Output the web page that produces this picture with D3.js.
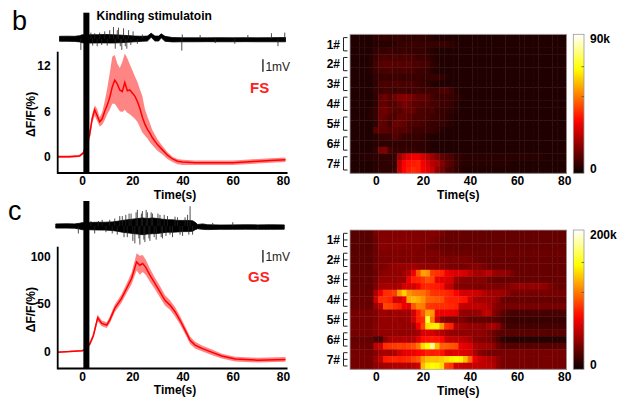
<!DOCTYPE html>
<html><head><meta charset="utf-8">
<script src="https://cdn.jsdelivr.net/npm/d3@7"></script>
<style>body{margin:0;background:#fff}svg{display:block}text{font-family:Arial,"Liberation Sans",sans-serif}</style>
</head><body><svg id="c" width="621" height="400"></svg>
<script>
// ---------- data ----------
const timeTicks = [0, 20, 40, 60, 80];
const animals = ["1#", "2#", "3#", "4#", "5#", "6#", "7#"];
const stim = [0.5, 2.9]; // kindling stimulation (s)

// FS mean trace dF/F (%)
const FS_T    = [-10,-5,-1,0.5,3,4,5,6,7,8,9,10,11,12,13,14,15,16,17,18,19,20,21,22,23,24,25,26,27,28,30,32,34,36,38,40,45,50,55,60,65,70,75,81];
const FS_MEAN = [0,0,0.1,0.5,2.9,5.0,6.2,5.4,4.6,5.0,6.0,6.8,7.8,9.2,10.1,9.6,8.8,8.6,9.8,8.7,8.8,8.4,8.0,7.3,6.4,5.2,4.3,3.6,3.1,2.5,1.6,0.9,0.2,-0.3,-0.6,-0.7,-0.8,-0.8,-0.8,-0.8,-0.7,-0.6,-0.5,-0.4];
const FS_HI   = [0.15,0.15,0.25,0.7,3.7,5.6,6.8,6.3,5.2,5.9,7.3,9.0,11.0,13.2,13.4,12.3,11.7,12.5,13.6,13.0,12.2,11.4,10.6,9.9,8.9,8.0,6.3,5.3,4.4,3.5,2.3,1.4,0.6,0.0,-0.3,-0.4,-0.5,-0.5,-0.5,-0.5,-0.4,-0.3,-0.2,-0.1];
const FS_LO   = [-0.15,-0.15,-0.05,0.3,2.2,4.4,5.4,4.7,4.0,4.2,4.8,5.6,6.2,7.0,7.0,6.5,6.0,5.9,6.2,5.8,5.6,5.3,5.0,4.6,3.9,3.2,2.8,2.4,1.9,1.5,0.8,0.3,-0.3,-0.7,-1.0,-1.1,-1.1,-1.1,-1.1,-1.1,-1.0,-0.9,-0.8,-0.7];

// GS mean trace dF/F (%)
const GS_T    = [-10,-5,0,0.6,3,4.5,6.2,7.8,9.8,11,13,15.7,17.7,19.7,21.7,23,24.1,25.3,27,29,31,33,35,37,39,41,43,45,47.7,51,55.6,61,70,81];
const GS_MEAN = [-0.7,0,1,1.5,7.6,17,35.6,29.7,27.9,33.2,45.5,56,66.5,77,94.5,91,92.8,89,80.5,71.8,63,54,49,42,33,22.6,12,6.8,3.4,0,-4.7,-7.9,-9,-8.2];
const GS_SEM  = [0.8,0.8,0.8,1,2,3,3.5,3,3,3.5,4,4.5,5,6,9,10,9,8,7,6,6,5.5,5,5,4.5,4,4,3.5,3,3,2.5,2.5,2.5,2.5];

// EEG envelopes (mV) and spikes [t, mV]
const EEG1_T  = [-9,-6,-3,-1,0,3,6,9,12,15,18,21,24,26,27.5,29,30.5,31.5,33,36,40,45,50,55,60,65,70,75,81];
const EEG1_HI = [0.2,0.21,0.2,0.25,0.32,0.33,0.33,0.35,0.33,0.3,0.26,0.22,0.2,0.22,0.45,0.22,0.22,0.4,0.2,0.1,0.08,0.08,0.08,0.09,0.08,0.09,0.08,0.09,0.1];
const EEG1_LO = [-0.2,-0.2,-0.21,-0.25,-0.32,-0.34,-0.33,-0.33,-0.34,-0.32,-0.28,-0.24,-0.2,-0.18,0.12,-0.18,-0.18,0.08,-0.2,-0.25,-0.24,-0.24,-0.23,-0.24,-0.24,-0.23,-0.24,-0.24,-0.24];
const EEG1_SP = [[-0.5,-0.9],[3.5,0.5],[4.2,-0.55],[5,0.45],[6,-0.6],[7,0.5],[7.8,-0.5],[9,0.6],[10,-0.55],[11,0.7],[12.5,0.95],[13.2,-0.8],[14,0.7],[14.5,0.9],[15.2,-0.6],[15.8,-0.9],[16.5,0.85],[17.2,-0.6],[17.8,-0.8],[18.5,0.7],[19.4,-0.5],[20.3,0.6],[22,-0.4],[24,0.35],[39.7,-0.95],[39.9,0.35],[47,0.3],[53,-0.35],[60.8,-0.4],[66,0.3],[75.4,0.45],[78,-0.6],[80.7,0.5]];
const EEG2_T  = [-10.5,-6,-3,-1,0,3,6,9,12,14,16,18,20,22,24,26,28,30,32,34,36,38,40,42,44,45,46,48,50,55,60,65,70,75,80.5];
const EEG2_HI = [0.17,0.18,0.17,0.22,0.27,0.28,0.3,0.3,0.33,0.38,0.45,0.5,0.55,0.6,0.65,0.6,0.65,0.6,0.55,0.5,0.5,0.45,0.45,0.45,0.42,0.3,0.12,0.17,0.1,0.08,0.09,0.1,0.09,0.1,0.09];
const EEG2_LO = [-0.17,-0.17,-0.18,-0.25,-0.3,-0.3,-0.32,-0.33,-0.36,-0.42,-0.5,-0.55,-0.6,-0.65,-0.7,-0.65,-0.62,-0.6,-0.55,-0.5,-0.5,-0.48,-0.45,-0.45,-0.42,-0.3,-0.22,-0.27,-0.29,-0.27,-0.27,-0.26,-0.27,-0.27,-0.26];
const EEG2_SP = [[-1.5,-0.6],[3.5,0.4],[5,-0.6],[6.5,0.4],[8,0.5],[9.5,-0.5],[11,0.5],[12,-0.6],[13,0.6],[14,-0.7],[15,0.8],[16,0.8],[16.7,-0.9],[17.4,0.9],[18,-0.9],[18.7,1.0],[19.5,1.0],[20.2,-1.2],[21,-1.4],[21.5,1.1],[22,1.3],[22.6,-1.0],[23,-1.5],[23.6,1.0],[24,1.2],[24.6,-1.1],[25,-1.3],[25.5,1.3],[26,1.1],[26.6,-1.0],[27,-1.2],[27.5,1.1],[28,1.0],[28.7,-0.9],[29.5,-1.1],[30.2,1.0],[31,0.9],[31.5,-0.9],[32,-1.0],[32.7,0.9],[33.4,-0.8],[34,0.8],[35,-0.7],[36,-0.9],[37,0.75],[38,0.7],[39,-0.7],[40,-0.8],[41,0.7],[42,0.9],[42.5,-0.7],[43,1.6],[44,-0.7],[52,0.25],[60,0.3],[70,-0.3]];

// Heatmaps: 21 rows (7 animals x 3 trials), 2-s bins from -11 s, values in k
const heatStart = -11, heatBin = 2;
const FS_HEAT = [
[3,3,3,3,3,5,5,6,5,6,6,5,6,5,6,5,5,4,3,3,3,3,3,3,3,3,3,3,3,3,3,3,3,3,3,3,3,3,3,3,3,3,3,3,3,3],
[3,3,3,3,3,4,4,4,4,5,6,6,6,7,6,6,6,6,6,6,6,5,4,3,3,3,3,3,3,3,3,3,3,3,3,3,3,3,3,3,3,3,3,3,3,3],
[3,3,3,3,3,6,6,6,7,6,6,7,6,6,6,6,5,4,3,3,3,3,3,3,3,3,3,3,3,3,3,3,3,3,3,3,3,3,3,3,3,3,3,3,3,3],
[3,3,3,3,4,7,8,9,8,9,8,9,8,8,7,7,6,4,3,3,3,3,3,3,3,3,3,3,3,3,3,3,3,3,3,3,3,3,3,3,3,3,3,3,3,3],
[3,3,3,3,4,8,10,11,11,10,11,10,11,9,9,8,8,5,4,3,3,3,3,3,3,3,3,3,3,3,3,3,3,3,3,3,3,3,3,3,3,3,3,3,3,3],
[3,3,3,3,4,7,8,8,9,8,8,9,8,8,7,7,6,4,3,3,3,3,3,3,3,3,3,3,3,3,3,3,3,3,3,3,3,3,3,3,3,3,3,3,3,3],
[3,3,3,3,3,6,6,7,6,7,7,6,7,6,7,6,6,6,6,5,4,3,3,3,3,3,3,3,3,3,3,3,3,3,3,3,3,3,3,3,3,3,3,3,3,3],
[3,3,3,3,3,5,8,9,8,9,9,8,9,8,7,6,5,4,3,3,3,3,3,3,3,3,3,3,3,3,3,3,3,3,3,3,3,3,3,3,3,3,3,3,3,3],
[3,3,3,3,3,6,7,8,8,7,8,8,7,8,8,7,8,7,7,9,9,7,4,3,3,3,3,3,3,3,3,3,3,3,3,3,3,3,3,3,3,3,3,3,3,3],
[3,3,3,3,3,5,12,14,10,14,16,17,16,14,12,12,11,8,7,7,7,6,5,4,3,3,3,3,3,3,3,3,3,3,3,3,3,3,3,3,3,3,3,3,3,3],
[3,3,3,3,3,5,12,12,10,10,13,15,14,11,11,10,10,8,8,7,7,6,4,3,3,3,3,3,3,3,3,3,3,3,3,3,3,3,3,3,3,3,3,3,3,3],
[3,3,3,3,4,6,13,14,12,10,10,13,13,12,9,9,8,9,6,6,6,5,4,3,3,3,3,3,3,3,3,3,3,3,3,3,3,3,3,3,3,3,3,3,3,3],
[3,3,3,3,4,6,13,12,9,9,12,12,11,9,9,9,8,7,7,6,5,4,3,3,3,3,3,3,3,3,3,3,3,3,3,3,3,3,3,3,3,3,3,3,3,3],
[3,3,3,3,3,5,12,11,8,13,13,12,9,9,9,8,7,6,6,6,5,4,3,3,3,3,3,3,3,3,3,3,3,3,3,3,3,3,3,3,3,3,3,3,3,3],
[3,3,3,3,3,11,11,11,10,11,10,10,9,7,7,7,7,6,5,4,3,3,3,3,3,3,3,3,3,3,3,3,3,3,3,3,3,3,3,3,3,3,3,3,3,3],
[3,3,3,3,3,4,6,6,7,10,8,6,6,6,6,5,4,3,3,3,3,3,3,3,3,3,3,3,3,3,3,3,3,3,3,3,3,3,3,3,3,3,3,3,3,3],
[3,3,3,3,3,4,5,5,5,5,5,5,5,5,5,5,4,3,3,3,3,3,3,3,3,3,3,3,3,3,3,3,3,3,3,3,3,3,3,3,3,3,3,3,3,3],
[3,3,3,3,3,5,15,16,8,6,6,6,6,6,5,5,4,3,3,3,3,3,3,3,3,3,3,3,3,3,3,3,3,3,3,3,3,3,3,3,3,3,3,3,3,3],
[3,3,3,4,4,5,5,5,5,6,20,26,30,32,32,28,24,20,16,12,10,9,6,5,4,4,4,4,4,4,4,4,4,4,4,4,4,4,4,4,4,3,3,3,3,3],
[3,3,3,3,3,4,5,5,5,6,25,33,36,37,38,32,28,24,22,16,12,10,7,5,4,4,4,4,4,4,4,4,4,4,3,3,3,3,3,3,3,3,3,3,3,3],
[3,3,3,3,3,4,5,5,5,6,26,34,37,39,38,33,30,26,18,15,10,8,6,4,3,3,3,3,3,3,3,3,3,3,3,3,3,3,3,3,3,3,3,3,3,3]
];
const GS_HEAT = [
[23,23,23,24,24,34,36,37,35,37,36,38,36,37,36,35,36,37,36,33,29,28,28,29,28,28,27,28,28,27,28,28,27,28,28,27,28,27,28,28,27,28,27,28,28,27],
[23,23,24,23,24,30,37,38,37,38,37,39,38,37,38,36,37,35,33,30,28,28,29,28,28,27,28,28,28,27,28,27,28,28,27,28,28,27,28,27,28,28,27,28,28,27],
[23,24,23,23,24,30,38,38,37,38,38,37,38,36,37,35,33,31,30,29,28,28,28,27,28,28,28,27,28,28,27,28,28,27,28,28,27,28,28,27,28,28,27,28,27,28],
[24,24,24,24,25,30,35,36,35,36,36,35,36,37,35,36,35,36,35,32,30,31,30,30,31,30,30,29,30,30,30,30,29,30,30,29,30,29,29,30,29,30,29,29,30,29],
[24,24,24,25,24,30,34,35,35,36,35,36,35,36,35,36,35,34,35,36,35,34,35,34,35,33,30,29,29,28,28,28,29,28,28,28,28,27,28,28,28,28,27,28,28,28],
[25,25,25,25,25,33,34,36,40,42,43,42,44,45,43,42,41,42,40,40,36,34,35,33,34,36,38,37,34,30,29,29,28,29,28,28,28,29,28,28,28,28,28,27,28,28],
[26,26,26,26,26,30,38,40,40,42,41,45,52,70,100,122,118,92,89,86,72,66,64,65,62,55,48,47,50,55,45,42,43,40,34,29,28,29,28,28,29,28,28,28,29,28],
[26,26,26,27,26,32,42,42,43,42,44,44,70,84,86,90,98,95,70,65,64,62,45,40,38,38,37,38,37,32,29,28,28,28,29,28,28,28,29,28,28,28,28,28,28,28],
[26,26,27,26,26,35,47,47,48,46,50,60,62,61,70,84,86,84,82,78,58,55,38,36,35,36,35,34,35,36,35,34,36,35,40,42,44,40,43,41,42,40,35,30,29,29],
[28,28,28,28,29,50,70,88,89,92,120,136,118,112,110,108,100,90,89,88,86,84,75,64,61,62,60,58,52,47,46,47,45,40,34,33,33,34,33,33,33,34,33,33,33,33],
[28,28,28,29,28,60,88,89,85,62,60,70,125,130,126,118,104,103,100,98,86,84,84,82,80,60,50,47,47,46,45,40,30,28,28,29,28,28,28,28,28,29,28,28,28,28],
[28,28,29,28,28,45,55,96,94,88,84,70,66,100,113,112,92,90,89,88,88,86,84,58,56,56,55,56,54,50,42,36,34,33,33,33,34,33,33,33,34,33,33,33,33,33],
[33,33,33,33,34,36,44,46,42,47,44,46,45,60,84,100,124,120,72,70,70,68,66,44,42,42,42,43,54,56,38,32,24,20,19,19,19,18,19,19,19,18,19,19,19,19],
[33,32,33,33,32,36,42,43,42,44,42,43,44,60,84,88,160,110,60,40,36,35,34,36,33,28,27,28,27,26,25,22,18,15,14,14,14,15,14,14,14,14,15,14,14,14],
[33,33,33,33,33,38,42,42,43,42,44,42,43,45,70,94,140,145,146,120,89,84,50,47,45,42,43,42,40,47,48,42,25,18,17,17,18,17,17,18,17,17,17,18,17,17],
[33,33,33,33,33,38,41,42,42,43,42,42,42,44,48,62,64,62,56,52,46,42,42,41,42,42,40,42,40,36,30,26,24,24,23,24,23,24,24,23,24,24,23,24,24,24],
[28,28,28,28,27,20,19,40,48,50,49,52,50,52,64,78,80,82,80,76,58,56,55,54,52,48,38,37,36,35,28,20,12,10,9,9,9,10,9,9,9,9,10,9,9,9],
[30,30,30,30,30,56,60,88,90,92,94,92,95,98,110,140,150,176,130,104,103,100,98,70,66,64,50,47,47,46,40,30,24,23,23,23,24,23,23,24,23,23,23,23,24,23],
[33,33,33,33,33,38,46,48,47,50,60,66,68,70,75,78,84,82,84,80,66,64,66,65,63,62,50,40,35,33,33,33,34,33,33,33,34,33,33,33,33,33,33,34,33,33],
[33,33,33,33,33,45,55,82,84,86,84,86,88,95,100,120,130,132,131,134,140,145,148,146,130,105,70,60,55,52,48,40,34,33,33,33,34,33,33,33,33,34,33,33,33,33],
[33,33,33,33,33,40,44,46,48,50,50,52,50,54,60,130,146,150,148,140,94,90,60,58,57,56,58,56,55,54,50,40,34,33,33,33,33,34,33,33,33,33,33,33,33,33]
];

// ---------- drawing ----------
const svg = d3.select('#c');
const FONT = 'Arial, "Liberation Sans", sans-serif';
function hot(v) {
  v = Math.max(0, Math.min(1, v));
  const r = Math.min(1, 0.0417 + v / 0.375 * 0.9583);
  const g = Math.max(0, Math.min(1, (v - 0.375) / 0.375));
  const b = Math.max(0, Math.min(1, (v - 0.75) / 0.25));
  return d3.rgb(r * 255, g * 255, b * 255).formatHex();
}

const xL = d3.scaleLinear().domain([-10, 80]).range([57, 283]);
const xH = d3.scaleLinear().domain([-11, 81]).range([350, 566.5]);

const panels = [
  { letter: 'b', letterX: 12, letterY: 30, eegY: 38.8, eegT: EEG1_T, eegHi: EEG1_HI, eegLo: EEG1_LO, eegSp: EEG1_SP,
    barTop: 12.7, axTop: 51.7, axBot: 173, yDom: [-2.15, 13.85], yTicks: [0, 6, 12],
    T: FS_T, M: FS_MEAN, HI: FS_HI, LO: FS_LO, name: 'FS', nameX: 250, nameY: 93, sbTop: 59.3,
    heat: FS_HEAT, hTop: 34.3, hBot: 173.3, cmax: 90, cLab: '90k', prongs: 2 },
  { letter: 'c', letterX: 8, letterY: 220, eegY: 226, eegT: EEG2_T, eegHi: EEG2_HI, eegLo: EEG2_LO, eegSp: EEG2_SP,
    barTop: 201, axTop: 246.7, axBot: 368.5, yDom: [-17.8, 110.5], yTicks: [0, 50, 100],
    T: GS_T, M: GS_MEAN, HI: GS_MEAN.map((m, i) => m + GS_SEM[i]), LO: GS_MEAN.map((m, i) => m - GS_SEM[i]),
    name: 'GS', nameX: 248, nameY: 282, sbTop: 250,
    heat: GS_HEAT, hTop: 230, hBot: 369.3, cmax: 200, cLab: '200k', prongs: 3 }
];

panels.forEach((p, pi) => {
  const g = svg.append('g');
  const y = d3.scaleLinear().domain(p.yDom).range([p.axBot, p.axTop]);
  const mv = 12.4; // px per mV
  const ye = v => p.eegY - v * mv;

  g.append('text').attr('x', p.letterX).attr('y', p.letterY).attr('font-size', 27)
    .attr('font-family', FONT).text(p.letter);

  // EEG envelope + spikes
  const eegData = p.eegT.map((t, i) => ({ t, hi: p.eegHi[i], lo: p.eegLo[i] }));
  g.append('path').datum(eegData)
    .attr('d', d3.area().x(d => xL(d.t)).y0(d => ye(d.lo)).y1(d => ye(d.hi)))
    .attr('fill', '#000').attr('stroke', '#000').attr('stroke-width', 0.8);
  g.selectAll('.sp').data(p.eegSp).join('line')
    .attr('x1', d => xL(d[0])).attr('x2', d => xL(d[0]))
    .attr('y1', ye(0)).attr('y2', d => ye(d[1]))
    .attr('stroke', '#222').attr('stroke-width', 0.8);

  // band + mean
  const tr = p.T.map((t, i) => ({ t, m: p.M[i], hi: p.HI[i], lo: p.LO[i] }));
  g.append('path').datum(tr)
    .attr('d', d3.area().x(d => xL(d.t)).y0(d => y(d.lo)).y1(d => y(d.hi)))
    .attr('fill', '#ff8585');
  g.append('path').datum(tr)
    .attr('d', d3.line().x(d => xL(d.t)).y(d => y(d.m)))
    .attr('fill', 'none').attr('stroke', '#ff0000').attr('stroke-width', 1.5);

  // axes
  g.append('line').attr('x1', 57.7).attr('x2', 57.7).attr('y1', p.axTop).attr('y2', p.axBot + 0.9)
    .attr('stroke', '#000').attr('stroke-width', 1.8);
  g.append('line').attr('x1', 57.7).attr('x2', xL(81.8)).attr('y1', p.axBot).attr('y2', p.axBot)
    .attr('stroke', '#000').attr('stroke-width', 1.8);
  const xa = g.append('g').attr('transform', `translate(0,${p.axBot})`)
    .call(d3.axisBottom(xL).tickValues(timeTicks).tickSize(0).tickPadding(3.5));
  xa.select('.domain').remove();
  xa.selectAll('text').attr('font-size', 12).attr('font-weight', 'bold').attr('font-family', FONT).attr('fill', '#000');
  const ya = g.append('g').attr('transform', 'translate(57.7,0)')
    .call(d3.axisLeft(y).tickValues(p.yTicks).tickSize(0).tickPadding(7));
  ya.select('.domain').remove();
  ya.selectAll('text').attr('font-size', 12).attr('font-weight', 'bold').attr('font-family', FONT).attr('fill', '#000');

  g.append('text').attr('x', 175).attr('y', p.axBot + 25.5).attr('text-anchor', 'middle')
    .attr('font-size', 12).attr('font-weight', 'bold').attr('font-family', FONT).text('Time(s)');
  g.append('text').attr('transform', `translate(34.5,${(p.axTop + p.axBot) / 2 + 2}) rotate(-90)`)
    .attr('text-anchor', 'middle').attr('font-size', 12).attr('font-weight', 'bold').attr('font-family', FONT)
    .text('ΔF/F(%)');

  // stimulation bar
  g.append('rect').attr('x', xL(stim[0])).attr('width', xL(stim[1]) - xL(stim[0]))
    .attr('y', p.barTop).attr('height', p.axBot - p.barTop).attr('fill', '#000');

  // scale bar + labels
  g.append('line').attr('x1', xL(72)).attr('x2', xL(72)).attr('y1', p.sbTop).attr('y2', p.sbTop + mv)
    .attr('stroke', '#333').attr('stroke-width', 1.5);
  g.append('text').attr('x', xL(72) + 2.5).attr('y', p.sbTop + 11.3).attr('font-size', 12)
    .attr('font-family', FONT).attr('fill', '#222').text('1mV');
  g.append('text').attr('x', p.nameX).attr('y', p.nameY).attr('font-size', 15).attr('font-weight', 'bold')
    .attr('font-family', FONT).attr('fill', '#ff2020').text(p.name);

  if (pi === 0) {
    g.append('text').attr('x', 96.5).attr('y', 19.5).attr('font-size', 12).attr('font-weight', 'bold')
      .attr('font-family', FONT).text('Kindling stimulatoin');
  }

  // ---------- heatmap ----------
  const nRows = p.heat.length;
  const yR = d3.scaleBand().domain(d3.range(nRows)).range([p.hTop, p.hBot]);
  const cells = [];
  p.heat.forEach((row, r) => row.forEach((v, i) => cells.push({ r, i, v })));
  g.append('g').selectAll('rect').data(cells).join('rect')
    .attr('x', d => xH(heatStart + d.i * heatBin))
    .attr('width', d => xH(heatStart + (d.i + 1) * heatBin) - xH(heatStart + d.i * heatBin) + 0.4)
    .attr('y', d => yR(d.r)).attr('height', yR.bandwidth() + 0.4)
    .attr('fill', d => hot(d.v / p.cmax));
  g.append('rect').attr('x', xH(-11)).attr('y', p.hTop).attr('width', xH(81) - xH(-11)).attr('height', p.hBot - p.hTop)
    .attr('fill', 'none').attr('stroke', '#aaa').attr('stroke-width', 0.8);

  const hx = g.append('g').attr('transform', `translate(0,${p.hBot})`)
    .call(d3.axisBottom(xH).tickValues(timeTicks).tickSize(0).tickPadding(3.5));
  hx.select('.domain').remove();
  hx.selectAll('text').attr('font-size', 12).attr('font-weight', 'bold').attr('font-family', FONT).attr('fill', '#000');
  g.append('text').attr('x', (xH(-11) + xH(81)) / 2).attr('y', p.hBot + 25.5).attr('text-anchor', 'middle')
    .attr('font-size', 12).attr('font-weight', 'bold').attr('font-family', FONT).text('Time(s)');

  animals.forEach((a, k) => {
    const r0 = k * 3, r2 = k * 3 + 2;
    const yc0 = yR(r0) + yR.bandwidth() / 2, yc2 = yR(r2) + yR.bandwidth() / 2;
    const ymid = (yc0 + yc2) / 2;
    g.append('text').attr('x', 340).attr('y', ymid).attr('dy', '0.36em').attr('text-anchor', 'end')
      .attr('font-size', 12).attr('font-weight', 'bold').attr('font-family', FONT).text(a);
    const bx = 343.5, bw = 4;
    let d = `M${bx + bw},${yc0}H${bx}V${yc2}H${bx + bw}`;
    if (p.prongs === 3) d += `M${bx},${ymid}H${bx + bw}`;
    g.append('path').attr('d', d).attr('fill', 'none').attr('stroke', '#222').attr('stroke-width', 1);
  });

  // colorbar
  const gid = 'cb' + pi;
  const grad = svg.append('defs').append('linearGradient').attr('id', gid)
    .attr('x1', 0).attr('y1', 1).attr('x2', 0).attr('y2', 0);
  d3.range(0, 1.0001, 0.05).forEach(s => grad.append('stop').attr('offset', s).attr('stop-color', hot(s)));
  g.append('rect').attr('x', 573.3).attr('y', p.hTop).attr('width', 10.7).attr('height', p.hBot - p.hTop)
    .attr('fill', `url(#${gid})`).attr('stroke', '#999').attr('stroke-width', 0.8);
  const cy = d3.scaleLinear().domain([0, p.cmax]).range([p.hBot, p.hTop]);
  [0.336, 0.552, 0.767].forEach(f => {
    g.append('line').attr('x1', 581.5).attr('x2', 584).attr('y1', cy(f * p.cmax)).attr('y2', cy(f * p.cmax))
      .attr('stroke', '#555').attr('stroke-width', 0.8);
  });
  g.append('text').attr('x', 590).attr('y', p.hTop + 9).attr('font-size', 12).attr('font-weight', 'bold')
    .attr('font-family', FONT).text(p.cLab);
  g.append('text').attr('x', 590).attr('y', p.hBot).attr('font-size', 12).attr('font-weight', 'bold')
    .attr('font-family', FONT).text('0');
});
</script>
</body></html>
